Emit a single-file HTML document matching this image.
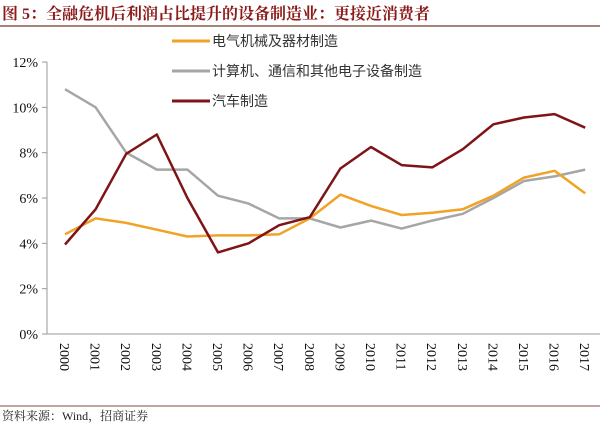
<!DOCTYPE html>
<html><head><meta charset="utf-8"><style>
body{margin:0;background:#fff;width:600px;height:425px;overflow:hidden}
svg{display:block}
</style></head><body>
<svg id="s" width="600" height="425" xmlns="http://www.w3.org/2000/svg" font-family="Liberation Serif, Noto Serif CJK SC, serif">
<text x="2" y="19" font-size="16" font-weight="bold" fill="#8b1a1a" font-family="Liberation Serif, Noto Serif CJK SC, serif">图 5：全融危机后利润占比提升的设备制造业：更接近消费者</text>
<line x1="0" y1="26" x2="600" y2="26" stroke="#8a5a50" stroke-width="1.5"/>
<line x1="0" y1="406" x2="600" y2="406" stroke="#8a4a40" stroke-width="1"/>
<text x="2" y="420" font-size="12" fill="#222" font-family="Liberation Serif, Noto Serif CJK SC, serif">资料来源：Wind，招商证券</text>
<line x1="47" y1="62" x2="47" y2="334" stroke="#999"/>
<line x1="47" y1="334" x2="600" y2="334" stroke="#999"/>
<g id="g"></g>
<g font-size="14" fill="#333" font-family="Liberation Sans, Noto Sans CJK SC, sans-serif">
<line x1="172" y1="41" x2="210" y2="41" stroke="#f0a326" stroke-width="3"/><text x="212" y="46">电气机械及器材制造</text>
<line x1="172" y1="71" x2="210" y2="71" stroke="#a6a6a6" stroke-width="3"/><text x="212" y="76">计算机、通信和其他电子设备制造</text>
<line x1="172" y1="101" x2="210" y2="101" stroke="#7f1416" stroke-width="3"/><text x="212" y="106">汽车制造</text>
</g>
</svg>
<script>
var g=document.getElementById('g'),ns='http://www.w3.org/2000/svg',h='';
function y(v){return 334-v*22.67}function x(i){return 65+i*30.6}
for(var k=0;k<=6;k++){var yy=334-k*45.33;h+='<line x1="42" y1="'+yy+'" x2="47" y2="'+yy+'" stroke="#999"/><text x="38" y="'+(yy+5)+'" font-size="14" text-anchor="end" fill="#111">'+(2*k)+'%</text>';}
for(var i=0;i<18;i++){h+='<text transform="translate('+(x(i)-5)+',343) rotate(90)" font-size="14" fill="#111">'+(2000+i)+'</text>';}
var S=[["#a6a6a6",[10.8,10.0,8.0,7.25,7.25,6.1,5.75,5.1,5.1,4.7,5.0,4.65,5.0,5.3,6.0,6.75,6.95,7.25]],
["#f0a326",[4.4,5.1,4.9,4.6,4.3,4.35,4.35,4.4,5.1,6.15,5.65,5.25,5.35,5.5,6.1,6.9,7.2,6.2]],
["#7f1416",[3.95,5.5,7.95,8.8,6.0,3.6,4.0,4.8,5.15,7.3,8.25,7.45,7.35,8.15,9.25,9.55,9.7,9.1]]];
S.forEach(function(s){var p=s[1].map(function(v,i){return x(i).toFixed(1)+','+y(v).toFixed(1)}).join(' ');h+='<polyline points="'+p+'" fill="none" stroke="'+s[0]+'" stroke-width="2.5" stroke-linejoin="round"/>';});
g.innerHTML=h;
</script>
</body></html>
